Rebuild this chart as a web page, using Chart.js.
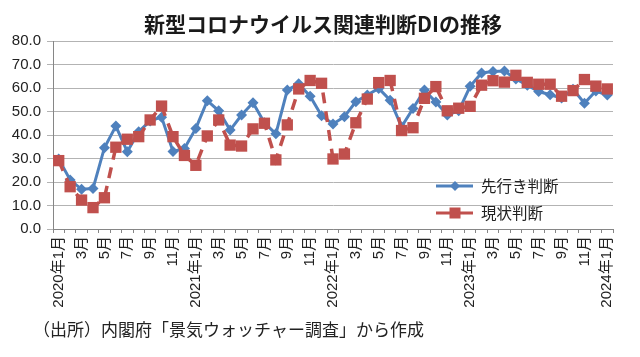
<!DOCTYPE html>
<html>
<head>
<meta charset="utf-8">
<script src="https://cdn.jsdelivr.net/npm/chart.js@4.4.1/dist/chart.umd.min.js"></script>
<style>
html,body{margin:0;padding:0;background:#fff;}
#wrap{position:relative;width:640px;height:357px;}
</style>
</head>
<body>
<div id="wrap"><canvas id="c" width="640" height="357"></canvas></div>
<script>
const titleText = "新型コロナウイルス関連判断DIの推移";
const sourceText = "（出所）内閣府「景気ウォッチャー調査」から作成";
const months = [
  "2020年1月","2月","3月","4月","5月","6月","7月","8月","9月","10月","11月","12月",
  "2021年1月","2月","3月","4月","5月","6月","7月","8月","9月","10月","11月","12月",
  "2022年1月","2月","3月","4月","5月","6月","7月","8月","9月","10月","11月","12月",
  "2023年1月","2月","3月","4月","5月","6月","7月","8月","9月","10月","11月","12月",
  "2024年1月"
];
const outlookLabel = "先行き判断";
const outlook = [
  29.8, 20.9, 16.9, 17.2, 34.6, 43.8, 32.9, 41.4, 46.0, 47.6, 33.0, 34.3,
  42.8, 54.6, 50.3, 42.1, 48.5, 53.7, 45.2, 40.5, 59.1, 61.8, 56.5, 48.2,
  44.7, 47.8, 54.2, 57.0, 59.8, 54.8, 43.5, 51.3, 59.1, 54.0, 48.5, 50.3,
  60.7, 66.4, 67.0, 67.2, 63.8, 61.2, 58.5, 57.1, 55.7, 59.5, 53.5, 58.7,
  57.0
];
const currentLabel = "現状判断";
const current = [
  29.1, 18.0, 12.3, 9.1, 13.3, 34.8, 38.2, 39.3, 46.4, 52.3, 39.3, 31.3,
  27.1, 39.6, 46.4, 35.7, 35.3, 42.6, 45.0, 29.4, 44.3, 59.6, 63.2, 62.0,
  29.8, 31.9, 45.2, 55.3, 62.3, 63.2, 41.9, 43.1, 55.6, 60.6, 50.3, 51.4,
  52.2, 61.2, 63.1, 62.5, 65.4, 62.4, 61.6, 61.6, 56.5, 58.9, 63.6, 60.8,
  59.6
];
const yMin = 0, yMax = 80, yStep = 10;

const BLUE = "#4F81BD";
const RED = "#C0504D";
const JP = '"Noto Sans CJK JP", "Noto Sans", sans-serif';
const NUM = '"Liberation Sans", "Noto Sans CJK JP", sans-serif';

const overlay = {
  id: "overlay",
  afterDraw(chart) {
    const ctx = chart.ctx;
    ctx.save();
    // title
    ctx.fillStyle = "#1a1a1a";
    ctx.font = "bold 21px " + JP;
    ctx.textAlign = "center";
    ctx.textBaseline = "middle";
    ctx.fillText(titleText, 323, 24);
    // source
    ctx.font = "17px " + JP;
    ctx.textAlign = "left";
    ctx.fillStyle = "#222";
    ctx.fillText(sourceText, 33, 330);
    // legend
    const items = [
      {label: outlookLabel, color: BLUE, y: 186, style: "diamond"},
      {label: currentLabel, color: RED, y: 213, style: "square"}
    ];
    items.forEach(it => {
      ctx.strokeStyle = it.color;
      ctx.lineWidth = 3;
      ctx.setLineDash([]);
      ctx.beginPath();
      ctx.moveTo(436, it.y);
      ctx.lineTo(473, it.y);
      ctx.stroke();
      ctx.fillStyle = it.color;
      if (it.style === "diamond") {
        ctx.beginPath();
        ctx.moveTo(455, it.y - 5);
        ctx.lineTo(460, it.y);
        ctx.lineTo(455, it.y + 5);
        ctx.lineTo(450, it.y);
        ctx.closePath();
        ctx.fill();
      } else {
        ctx.fillRect(449.5, it.y - 5.5, 11, 11);
      }
      ctx.fillStyle = "#222";
      ctx.font = "15.5px " + JP;
      ctx.textAlign = "left";
      ctx.textBaseline = "middle";
      ctx.fillText(it.label, 481, it.y);
    });
    ctx.restore();
  }
};

new Chart(document.getElementById("c"), {
  type: "line",
  data: {
    labels: months,
    datasets: [
      {
        label: outlookLabel,
        data: outlook,
        borderColor: BLUE,
        backgroundColor: BLUE,
        borderWidth: 3,
        pointStyle: "rectRot",
        pointRadius: 5.5,
        pointBorderWidth: 0,
        pointBackgroundColor: BLUE,
        tension: 0,
        order: 1
      },
      {
        label: currentLabel,
        data: current,
        borderColor: RED,
        backgroundColor: RED,
        borderWidth: 3.5,
        borderDash: [11, 8],
        pointStyle: "rect",
        pointRadius: 8,
        pointBorderWidth: 0,
        pointBackgroundColor: RED,
        tension: 0,
        order: 0
      }
    ]
  },
  options: {
    responsive: false,
    animation: false,
    devicePixelRatio: 1,
    layout: {padding: {left: 0, right: 27, top: 41, bottom: 0}},
    plugins: {
      legend: {display: false},
      title: {display: false},
      tooltip: {enabled: false}
    },
    scales: {
      x: {
        type: "category",
        offset: true,
        grid: {
          display: true,
          drawOnChartArea: false,
          drawTicks: true,
          tickLength: 4,
          offset: true,
          color: "#868686"
        },
        border: {display: true, color: "#868686", width: 1},
        ticks: {
          autoSkip: false,
          maxRotation: 90,
          minRotation: 90,
          padding: 3,
          color: "#222",
          font: {family: NUM, size: 15},
          callback: (v, i) => (i % 2 === 0 ? months[i] : "")
        },
        afterFit(scale) { scale.height = 128; }
      },
      y: {
        min: yMin,
        max: yMax,
        grid: {
          color: "#b3b3b3",
          lineWidth: 1,
          tickLength: 6,
          drawTicks: true
        },
        border: {display: true, color: "#868686", width: 1},
        ticks: {
          stepSize: yStep,
          padding: 6,
          color: "#222",
          font: {family: NUM, size: 15},
          callback: v => Number(v).toFixed(1)
        },
        afterFit(scale) { scale.width = 53; }
      }
    }
  },
  plugins: [overlay]
});
</script>
</body>
</html>
